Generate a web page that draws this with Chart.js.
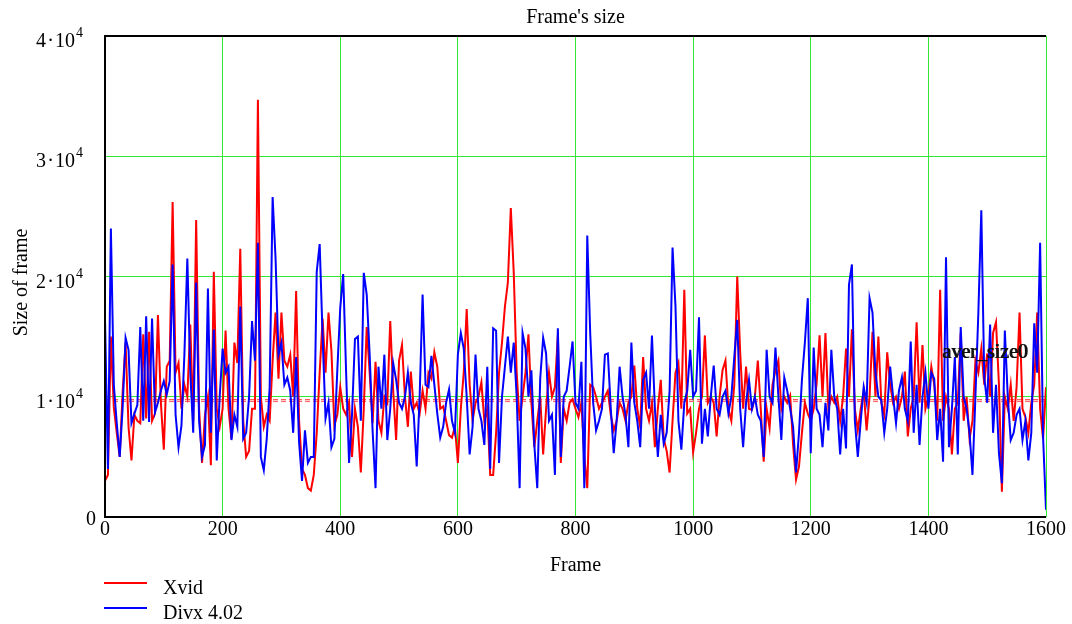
<!DOCTYPE html>
<html>
<head>
<meta charset="utf-8">
<title>Frame's size</title>
<script src="https://cdn.jsdelivr.net/npm/chart.js@4.4.1/dist/chart.umd.min.js"></script>
<style>
  html, body { margin: 0; padding: 0; background: #fff; }
  canvas { display: block; }
</style>
</head>
<body>
<canvas id="frameSizeChart" width="1072" height="624"></canvas>
<script>
// Frame sizes, one value every 5 frames, in thousands of bytes
const frameStep = 5;
const xvidK = [
  3.0, 3.5, 15.0, 9.1, 7.0, 5.0, 10.4, 14.5, 7.5, 4.7, 8.5,
  8.0, 7.8, 15.2, 8.2, 15.4, 8.0, 8.6, 16.8, 9.5, 5.6,
  12.5, 13.0, 26.2, 12.0, 12.8, 9.0, 11.0, 10.0, 16.0, 8.0,
  24.7, 9.0, 4.5, 8.5, 10.0, 4.3, 20.4, 9.0, 7.5, 9.0,
  15.5, 9.0, 6.5, 14.5, 12.8, 22.3, 8.0, 5.0, 5.5, 9.0,
  9.0, 34.7, 10.0, 7.5, 8.5, 8.0, 13.0, 17.0, 11.5, 17.0,
  13.0, 12.5, 13.5, 10.0, 18.8, 8.0, 4.0, 3.5, 2.4, 2.2,
  3.5, 7.0, 12.0, 16.5, 12.0, 17.0, 13.8, 7.6, 8.5, 10.8,
  9.0, 8.5, 9.5, 5.0, 9.0, 7.5, 3.7, 9.0, 15.8, 12.0,
  7.8, 12.9, 8.0, 7.0, 10.0, 9.5, 16.3, 10.5, 6.4, 13.0,
  14.3, 10.0, 7.5, 12.1, 9.0, 9.5, 8.6, 10.5, 9.0, 12.0,
  11.5, 13.7, 12.5, 9.0, 9.2, 8.0, 6.8, 6.6, 7.5, 4.5,
  9.0, 12.0, 17.3, 11.0, 8.0, 9.5, 10.0, 11.2, 8.0, 9.0,
  3.5, 3.5, 7.0, 12.0, 14.5, 17.5, 19.5, 25.7, 20.3, 12.0,
  8.0, 10.0, 12.0, 15.2, 9.5, 5.8, 8.0, 10.0, 5.2, 9.0,
  12.0, 10.0, 10.8, 15.1, 4.5, 9.0, 8.0, 9.5, 9.8, 9.0,
  8.3, 9.5, 5.0, 2.4, 11.0, 10.8, 10.0, 9.0, 9.5, 10.0,
  10.5, 8.5, 7.2, 8.0, 9.5, 9.0, 8.0, 9.5, 10.0, 12.6,
  9.0, 7.5, 13.3, 9.0, 8.0, 9.5, 5.8, 9.0, 11.4, 6.5,
  5.5, 3.7, 8.0, 12.0, 12.8, 9.0, 18.9, 8.6, 9.0, 5.4,
  7.0, 9.0, 10.0, 15.1, 9.5, 10.0, 9.5, 6.7, 10.0, 12.2,
  13.0, 9.0, 8.0, 11.0, 20.0, 13.7, 9.0, 12.5, 9.0, 8.9,
  10.0, 13.0, 9.0, 4.6, 9.0, 7.4, 11.0, 12.2, 13.0, 9.0,
  10.0, 9.5, 10.1, 6.0, 3.1, 4.2, 7.0, 9.5, 8.6, 8.0,
  9.0, 11.1, 15.1, 10.0, 15.3, 9.0, 10.0, 9.5, 10.0, 8.0,
  10.0, 14.0, 10.0, 15.6, 9.0, 7.2, 9.0, 10.5, 7.2, 10.0,
  15.4, 10.0, 15.0, 9.5, 8.5, 13.7, 11.0, 9.5, 10.0, 9.0,
  10.0, 12.1, 6.7, 9.0, 10.0, 16.2, 9.5, 14.3, 9.0, 10.0,
  12.5, 11.0, 8.0, 18.9, 8.0, 10.0, 9.0, 5.2, 9.0, 9.5,
  15.3, 8.0, 10.0, 6.5, 8.0, 13.0, 12.0, 14.0, 11.0, 13.6,
  10.0, 15.3, 16.2, 11.0, 2.1, 10.0, 9.0, 11.0, 8.0, 10.8,
  17.0, 9.0, 8.3, 7.0, 9.5, 11.0, 17.0, 9.0, 6.5, 10.8
];
const divxK = [
  16.5, 4.0, 24.0, 11.0, 7.8, 5.0, 9.1, 14.9, 13.9, 7.8, 8.6,
  9.3, 15.8, 8.0, 16.7, 7.9, 16.5, 8.7, 9.5, 10.5, 11.3,
  10.2, 11.3, 21.0, 8.5, 5.8, 7.6, 13.5, 21.5, 12.0, 7.0,
  19.5, 8.0, 5.0, 6.0, 19.0, 7.0, 15.6, 4.7, 10.0, 14.0,
  12.0, 12.5, 6.4, 8.5, 7.5, 17.5, 6.5, 7.0, 10.0, 16.3,
  13.0, 22.8, 5.0, 3.9, 6.5, 10.8, 26.6, 21.5, 13.5, 14.5,
  11.0, 11.6, 10.5, 7.0, 13.3, 6.2, 3.0, 7.2, 4.5, 5.0,
  5.0, 20.4, 22.7, 15.0, 8.2, 9.5, 5.8, 6.5, 12.2, 17.4,
  20.2, 12.0, 4.5, 8.5, 14.8, 15.0, 8.0, 20.3, 18.5, 13.5,
  7.2, 2.4, 12.5, 9.0, 13.5, 6.4, 9.0, 12.8, 11.4, 9.5,
  9.0, 10.0, 12.0, 9.5, 8.5, 4.2, 10.0, 18.5, 11.0, 10.8,
  13.4, 11.0, 8.6, 6.6, 7.5, 9.5, 10.6, 8.0, 7.0, 13.5,
  15.3, 14.0, 10.0, 5.2, 7.5, 13.5, 9.0, 8.0, 6.0, 12.5,
  4.0, 15.7, 15.5, 4.5, 10.0, 12.5, 15.0, 12.0, 14.5, 10.0,
  2.4, 15.3, 14.0, 10.0, 12.2, 6.0, 2.4, 11.5, 14.9, 13.6,
  8.0, 8.5, 3.5, 15.7, 5.0, 10.0, 10.5, 12.5, 14.6, 9.5,
  9.0, 12.9, 2.4, 23.4, 15.3, 9.5, 7.2, 8.0, 9.0, 13.5,
  13.6, 9.0, 5.3, 8.0, 12.5, 10.0, 8.5, 5.8, 14.5, 9.5,
  8.0, 5.8, 11.4, 12.0, 9.0, 15.1, 9.0, 5.0, 8.5, 6.1,
  7.0, 10.5, 22.4, 17.5, 8.0, 5.6, 9.5, 10.5, 13.9, 10.0,
  10.5, 16.6, 6.1, 9.0, 6.7, 10.0, 12.6, 9.0, 8.5, 10.0,
  10.5, 8.6, 10.0, 13.3, 16.4, 9.0, 5.8, 9.5, 11.4, 9.0,
  10.0, 8.5, 8.0, 5.0, 13.9, 10.0, 9.5, 14.1, 10.0, 6.4,
  11.6, 10.5, 9.0, 7.5, 3.7, 7.0, 11.4, 14.5, 18.2, 5.3,
  14.1, 9.0, 8.5, 5.8, 9.5, 7.2, 13.9, 10.0, 9.0, 5.2,
  9.0, 5.7, 19.3, 21.0, 8.0, 5.0, 8.0, 10.8, 9.5, 18.2,
  17.0, 12.0, 10.0, 9.7, 7.0, 9.0, 12.5, 10.0, 7.8, 10.5,
  11.6, 9.0, 8.0, 14.6, 7.0, 11.0, 6.0, 10.0, 12.0, 9.0,
  12.0, 11.5, 6.4, 9.0, 4.6, 21.6, 5.8, 9.0, 13.3, 5.2,
  15.8, 10.0, 9.0, 7.0, 3.5, 10.0, 17.0, 25.5, 11.6, 9.5,
  16.0, 7.0, 11.0, 5.3, 2.8, 15.5, 10.0, 6.4, 7.0, 8.5,
  9.0, 6.4, 8.0, 4.7, 7.0, 16.1, 12.0, 22.8, 6.7, 0.6
];
// dashed average levels
const averages = [9750, 9600];
const xTicks = [0, 200, 400, 600, 800, 1000, 1200, 1400, 1600];
const yTickMantissa = [0, 1, 2, 3, 4];
const seriesNames = ['Xvid', 'Divx 4.02'];

const serif = "'Liberation Serif', 'Times New Roman', serif";

function toPoints(arr) {
  return arr.map((v, i) => ({ x: i * frameStep, y: v * 1000 }));
}

// draws the Mathcad-like texts: title, axis names, tick labels, legend
const mathcadDecor = {
  id: 'mathcadDecor',
  afterDraw(chart) {
    const ctx = chart.ctx;
    const area = chart.chartArea;
    const xs = chart.scales.x, ys = chart.scales.y;
    ctx.save();

    // frame (top, left, bottom) in black
    ctx.strokeStyle = '#000';
    ctx.lineWidth = 2;
    ctx.beginPath();
    ctx.moveTo(area.right, area.top);
    ctx.lineTo(area.left, area.top);
    ctx.lineTo(area.left, area.bottom);
    ctx.lineTo(area.right, area.bottom);
    ctx.stroke();

    ctx.fillStyle = '#000';
    ctx.font = '20px ' + serif;

    // title
    ctx.textAlign = 'center';
    ctx.textBaseline = 'middle';
    ctx.fillText("Frame's size", (area.left + area.right) / 2, 18);

    // x ticks
    ctx.textBaseline = 'alphabetic';
    xTicks.forEach(t => {
      ctx.fillText(String(t), xs.getPixelForValue(t), area.bottom + 18);
    });
    ctx.fillText('Frame', (area.left + area.right) / 2, area.bottom + 54);

    // y ticks as n·10^4
    yTickMantissa.forEach(m => {
      const y = ys.getPixelForValue(m * 10000);
      ctx.font = '20px ' + serif;
      ctx.textAlign = 'right';
      if (m === 0) {
        ctx.fillText('0', area.left - 9, y + 8);
        return;
      }
      ctx.fillText('10', area.left - 30, y + 11);
      ctx.fillText('\u00b7', area.left - 51, y + 11);
      ctx.fillText(String(m), area.left - 59, y + 11);
      ctx.font = '14px ' + serif;
      ctx.textAlign = 'left';
      ctx.fillText('4', area.left - 29, y + 1);
    });

    // y axis name
    ctx.font = '20px ' + serif;
    ctx.save();
    ctx.translate(22, (area.top + area.bottom) / 2 + 6);
    ctx.rotate(-Math.PI / 2);
    ctx.textAlign = 'center';
    ctx.textBaseline = 'middle';
    ctx.fillText('Size of frame', 0, 0);
    ctx.restore();

    // aver_size0 label, slightly doubled as in the source
    ctx.textAlign = 'left';
    ctx.textBaseline = 'alphabetic';
    ctx.fillStyle = '#111';
    ctx.fillText('aver_size0', 942, 358);
    ctx.fillText('aver_size0', 943, 358);

    // legend
    const colors = ['#ff0000', '#0000ff'];
    seriesNames.forEach((name, i) => {
      const y = 583 + i * 25;
      ctx.strokeStyle = colors[i];
      ctx.lineWidth = 2;
      ctx.beginPath();
      ctx.moveTo(104, y);
      ctx.lineTo(147, y);
      ctx.stroke();
      ctx.fillStyle = '#000';
      ctx.fillText(name, 163, y + 11);
    });

    ctx.restore();
  }
};

const ctx = document.getElementById('frameSizeChart').getContext('2d');
const frameSizeChart = new Chart(ctx, {
  type: 'line',
  data: {
    datasets: [
      {
        label: seriesNames[1],
        data: toPoints(divxK),
        borderColor: '#0000ff',
        borderWidth: 2,
        pointRadius: 0,
        order: 0
      },
      {
        label: seriesNames[0],
        data: toPoints(xvidK),
        borderColor: '#ff0000',
        borderWidth: 2,
        pointRadius: 0,
        order: 1
      },
      ...averages.map((a, i) => ({
        label: 'avg' + i,
        data: [{ x: 0, y: a }, { x: 1600, y: a }],
        borderColor: i === 0 ? '#ff2020' : '#ff6060',
        borderWidth: 1,
        borderDash: [5, 3],
        pointRadius: 0,
        order: 2
      }))
    ]
  },
  options: {
    responsive: false,
    animation: false,
    devicePixelRatio: 1,
    layout: { padding: { left: 105, top: 36, right: 26, bottom: 107 } },
    plugins: {
      legend: { display: false },
      tooltip: { enabled: false },
      title: { display: false }
    },
    scales: {
      x: {
        type: 'linear',
        min: 0,
        max: 1600,
        ticks: { display: false, stepSize: 200 },
        grid: { color: '#33e833', lineWidth: 1, drawTicks: false },
        border: { display: false }
      },
      y: {
        min: 0,
        max: 40000,
        ticks: { display: false, stepSize: 10000 },
        grid: { color: '#33e833', lineWidth: 1, drawTicks: false },
        border: { display: false }
      }
    }
  },
  plugins: [mathcadDecor]
});
</script>
</body>
</html>
